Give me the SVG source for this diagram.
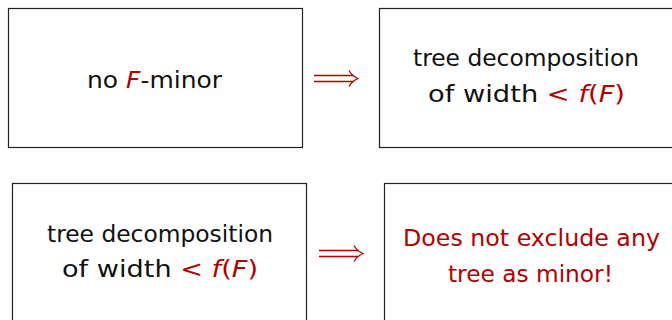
<svg xmlns="http://www.w3.org/2000/svg" width="672" height="320" viewBox="0 0 672 320">
<style>
.box{fill:#fff;stroke:#222;stroke-width:1.2}
.t{font-family:"DejaVu Sans","Liberation Sans",sans-serif;font-size:23.3px;fill:#111}
.r{fill:#b30000}
.i{font-style:italic}
.arr{fill:none;stroke:#b30000;stroke-width:1.3}
</style>
<rect width="672" height="320" fill="#fff"/>
<g id="node-no-minor">
<rect class="box" x="8.5" y="8.5" width="294" height="139"/>
<text class="t" x="87" y="88" textLength="135" lengthAdjust="spacingAndGlyphs">no <tspan class="r i">F</tspan>-minor</text>
</g>
<g id="node-treedec-1">
<rect class="box" x="379.5" y="8.5" width="300" height="139"/>
<text class="t" x="413" y="65.5" textLength="226" lengthAdjust="spacingAndGlyphs">tree decomposition</text>
<text class="t" x="428" y="101.5" textLength="197" lengthAdjust="spacingAndGlyphs">of width <tspan class="r">&lt; </tspan><tspan class="r i">f</tspan><tspan class="r">(</tspan><tspan class="r i">F</tspan><tspan class="r">)</tspan></text>
</g>
<g id="node-treedec-2">
<rect class="box" x="12.5" y="183.5" width="294" height="150"/>
<text class="t" x="47" y="241.5" textLength="226" lengthAdjust="spacingAndGlyphs">tree decomposition</text>
<text class="t" x="62" y="277" textLength="196" lengthAdjust="spacingAndGlyphs">of width <tspan class="r">&lt; </tspan><tspan class="r i">f</tspan><tspan class="r">(</tspan><tspan class="r i">F</tspan><tspan class="r">)</tspan></text>
</g>
<g id="node-does-not-exclude">
<rect class="box" x="384.5" y="183.5" width="300" height="150"/>
<text class="t r" x="403" y="246" textLength="257" lengthAdjust="spacingAndGlyphs">Does not exclude any</text>
<text class="t r" x="448" y="281.5" textLength="165" lengthAdjust="spacingAndGlyphs">tree as minor!</text>
</g>
<g id="connectors">
<path class="arr" d="M314 75.5H354M314 81.5H354M349 70.5Q352 76 358 78.5Q352 81 349 86.5"/>
<path class="arr" d="M319 250.5H359M319 256.5H359M354 245.5Q357 251 363 253.5Q357 256 354 261.5"/>
</g>
</svg>
